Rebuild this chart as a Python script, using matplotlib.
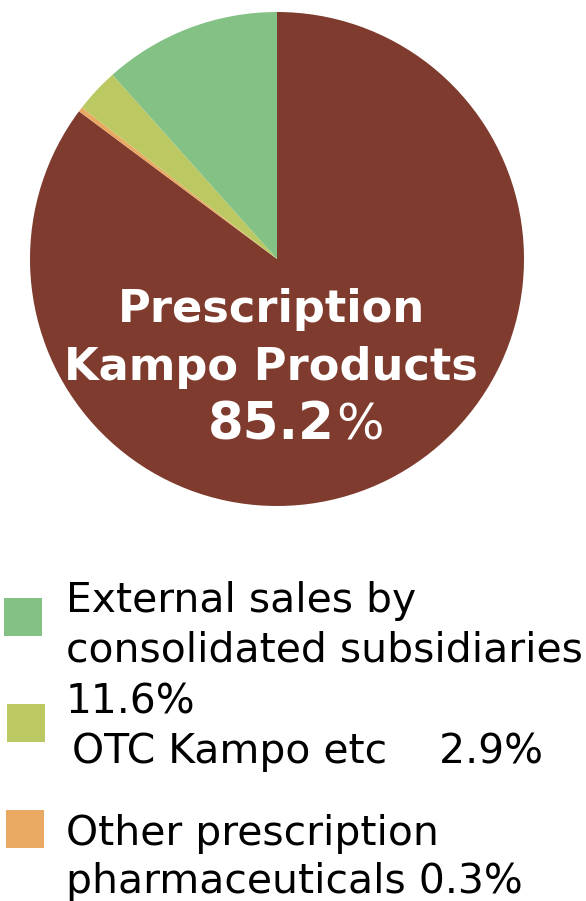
import matplotlib.pyplot as plt

# sales share by segment (%)
segments = ["Prescription Kampo Products", "Other prescription pharmaceuticals",
            "OTC Kampo etc", "External sales by consolidated subsidiaries"]
shares = [85.2, 0.3, 2.9, 11.6]
colors = ["#7F3B2D", "#E9A963", "#BCC862", "#84C185"]

W, H = 586, 901
fig = plt.figure(figsize=(W / 100, H / 100), dpi=100)


def px(x, y):
    return x / W, 1 - y / H


# pie sits in a square box, pixel bounds 30..524 across, 12..506 down
ax = fig.add_axes([30 / W, 1 - 506 / H, 494 / W, 494 / H])
ax.pie(shares, colors=colors, startangle=90, counterclock=False,
       wedgeprops=dict(linewidth=0))
ax.set_xlim(-1, 1)
ax.set_ylim(-1, 1)
ax.axis("off")

# label on the main slice
fig.text(*px(271, 322), "Prescription", color="white", fontsize=32.2,
         fontweight="bold", ha="center", va="baseline")
fig.text(*px(271, 380), "Kampo Products", color="white", fontsize=32.2,
         fontweight="bold", ha="center", va="baseline")
fig.text(*px(335, 440), f"{shares[0]}", color="white", fontsize=37,
         fontweight="bold", ha="right", va="baseline")
fig.text(*px(336, 440), "%", color="white", fontsize=36,
         ha="left", va="baseline")

# legend: colour squares and wrapped labels
fs = 29.4
squares = [(4, 598, colors[3]), (7, 704, colors[2]), (6, 810, colors[1])]
for x, y, c in squares:
    fig.patches.append(plt.Rectangle(px(x, y + 38), 38 / W, 38 / H,
                                     transform=fig.transFigure,
                                     facecolor=c, edgecolor="none"))

lines = [
    (66, 612, "External sales by"),
    (66, 662, "consolidated subsidiaries"),
    (66, 713, f"{shares[3]}%"),
    (72, 763, f"OTC Kampo etc    {shares[2]}%"),
    (66, 845, "Other prescription"),
    (66, 893, f"pharmaceuticals {shares[1]}%"),
]
for x, y, s in lines:
    fig.text(*px(x, y), s, fontsize=fs, color="black", ha="left", va="baseline")

fig.savefig("out.png", dpi=100)
